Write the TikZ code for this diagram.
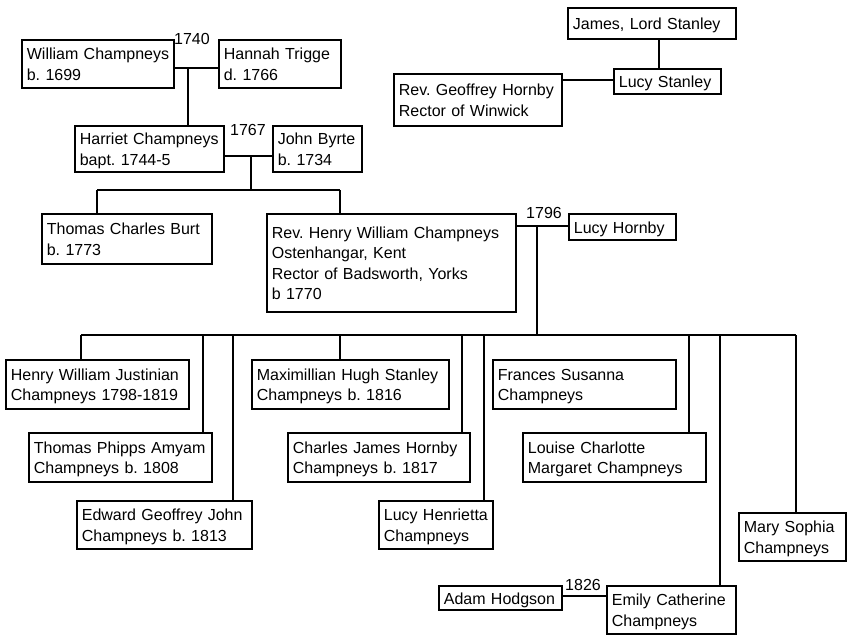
\documentclass[tikz,border=0pt]{standalone}
\usepackage{fontspec}
\setmainfont{Liberation Sans}
\newcommand{\lnx}[1]{\mbox{#1}}
\begin{document}
\begin{tikzpicture}[x=1pt,y=-1pt,
  box/.style={draw=black, line width=1.7pt, anchor=north west, align=left,
    inner xsep=5pt, inner ysep=0pt, text height=12.5pt,
    font=\fontsize{16pt}{20.5pt}\selectfont\frenchspacing},
  lone/.style={text depth=0pt},
  ltwo/.style={text depth=20.5pt},
  lfour/.style={text depth=61.5pt},
  yr/.style={inner sep=0pt, font=\fontsize{16pt}{20pt}\selectfont},
  conn/.style={line width=1.4pt}]
\useasboundingbox (0,0) rectangle (848,634);
% boxes: anchor north west at (x1,y1), text width = w-10, minimum height = h
\node[box,ltwo,text width=142pt,minimum height=48pt] (wc) at (21,39) {\lnx{William Champneys}\\\lnx{b. 1699}};
\node[box,ltwo,text width=112pt,minimum height=48pt] (ht) at (218,39) {\lnx{Hannah Trigge}\\\lnx{d. 1766}};
\node[box,ltwo,text width=139pt,minimum height=46pt] (hc) at (74,125) {\lnx{Harriet Champneys}\\\lnx{bapt. 1744-5}};
\node[box,ltwo,text width=79pt,minimum height=46pt] (jb) at (272,125) {\lnx{John Byrte}\\\lnx{b. 1734}};
\node[box,ltwo,text width=160pt,minimum height=50pt] (tcb) at (41,213) {\lnx{Thomas Charles Burt}\\\lnx{b. 1773}};
\node[box,lfour,text width=239pt,minimum height=98pt] (rhw) at (266,213) {\lnx{Rev. Henry William Champneys}\\\lnx{Ostenhangar, Kent}\\\lnx{Rector of Badsworth, Yorks}\\\lnx{b 1770}};
\node[box,lone,text width=97pt,minimum height=26pt] (lh) at (568,213) {\lnx{Lucy Hornby}};
\node[box,lone,text width=158pt,minimum height=31pt] (jls) at (567,7) {\lnx{James, Lord Stanley}};
\node[box,lone,text width=97pt,minimum height=25pt] (ls) at (613,68) {\lnx{Lucy Stanley}};
\node[box,ltwo,text width=158pt,minimum height=52pt] (rgh) at (393,73) {\lnx{Rev. Geoffrey Hornby}\\\lnx{Rector of Winwick}};
\node[box,ltwo,text width=173pt,minimum height=49pt] (c1) at (5,359) {\lnx{Henry William Justinian}\\\lnx{Champneys 1798-1819}};
\node[box,ltwo,text width=173pt,minimum height=49pt] (c2) at (28,432) {\lnx{Thomas Phipps Amyam}\\\lnx{Champneys b. 1808}};
\node[box,ltwo,text width=165pt,minimum height=48pt] (c3) at (76,500) {\lnx{Edward Geoffrey John}\\\lnx{Champneys b. 1813}};
\node[box,ltwo,text width=187pt,minimum height=49pt] (c4) at (251,359) {\lnx{Maximillian Hugh Stanley}\\\lnx{Champneys b. 1816}};
\node[box,ltwo,text width=172pt,minimum height=49pt] (c5) at (287,432) {\lnx{Charles James Hornby}\\\lnx{Champneys b. 1817}};
\node[box,ltwo,text width=104pt,minimum height=48pt] (c6) at (378,500) {\lnx{Lucy Henrietta}\\\lnx{Champneys}};
\node[box,ltwo,text width=173pt,minimum height=49pt] (c7) at (492,359) {\lnx{Frances Susanna}\\\lnx{Champneys}};
\node[box,ltwo,text width=173pt,minimum height=49pt] (c8) at (522,432) {\lnx{Louise Charlotte}\\\lnx{Margaret Champneys}};
\node[box,ltwo,text width=97pt,minimum height=48pt] (c9) at (738,512) {\lnx{Mary Sophia}\\\lnx{Champneys}};
\node[box,ltwo,text width=119pt,minimum height=48pt] (c10) at (606,585) {\lnx{Emily Catherine}\\\lnx{Champneys}};
\node[box,lone,text width=113pt,minimum height=24pt] (ah) at (438,585) {\lnx{Adam Hodgson}};
% marriage years
\node[yr] (y1740) at (192,39) {1740};
\node[yr] (y1767) at (248,130) {1767};
\node[yr] (y1796) at (544,213) {1796};
\node[yr] (y1826) at (583,585) {1826};
% junctions
\coordinate (j1) at (188,68);
\coordinate (j2) at (251,156);
\coordinate (b1) at (251,190);
\coordinate (b1l) at (97,190);
\coordinate (b1r) at (340,190);
\coordinate (j3) at (537,226);
\coordinate (b2) at (537,335);
\coordinate (bl) at (81,335);
\coordinate (br) at (796,335);
\coordinate (s1) at (659,40);
\coordinate (j5) at (587,80);
\coordinate (j6) at (583,596);
% connectors
\draw[conn] (wc.east |- j1) -- (ht.west |- j1);
\draw[conn] (j1) -- (j1 |- hc.north);
\draw[conn] (hc.east |- j2) -- (jb.west |- j2);
\draw[conn] (j2) -- (b1);
\draw[conn] (b1l) -- (b1r);
\draw[conn] (b1l) -- (b1l |- tcb.north);
\draw[conn] (b1r) -- (b1r |- rhw.north);
\draw[conn] (rhw.east |- j3) -- (lh.west |- j3);
\draw[conn] (j3) -- (b2);
\draw[conn] (bl) -- (br);
\foreach \xx/\nn in {81/c1,203/c2,233/c3,340/c4,462/c5,484/c6,689/c8,720/c10,796/c9}{
  \coordinate (d\nn) at (\xx,335);
  \draw[conn] (d\nn) -- (d\nn |- \nn.north);
}
\draw[conn] (s1 |- jls.south) -- (s1 |- ls.north);
\draw[conn] (rgh.east |- j5) -- (ls.west |- j5);
\draw[conn] (ah.east |- j6) -- (c10.west |- j6);
\end{tikzpicture}
\end{document}
